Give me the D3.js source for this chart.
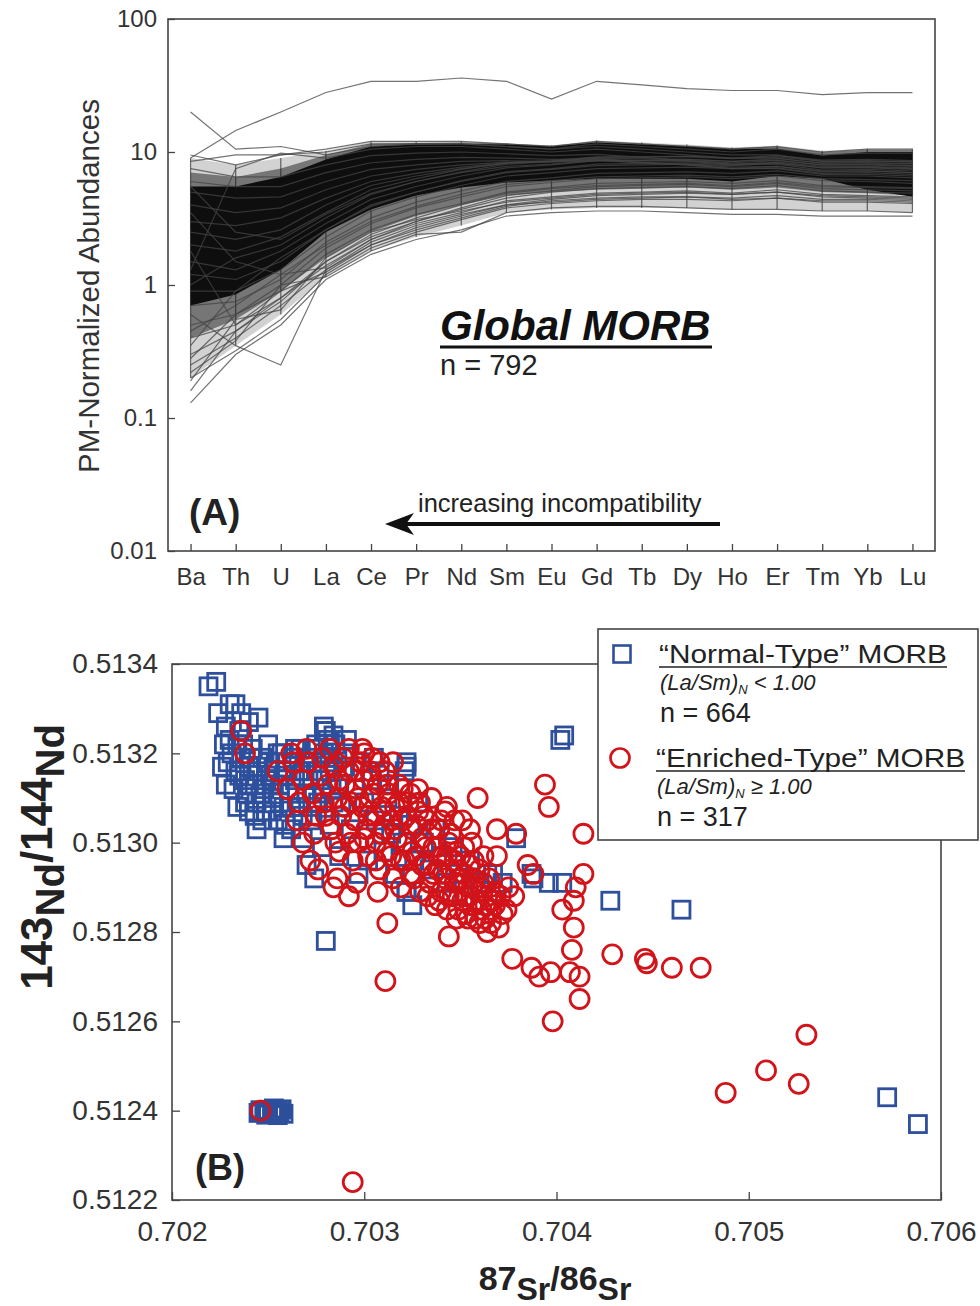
<!DOCTYPE html>
<html>
<head>
<meta charset="utf-8">
<script src="https://cdn.jsdelivr.net/npm/d3@7"></script>
<style>
  body { margin: 0; background: #fff; }
  svg { font-family: "Liberation Sans", Arial, sans-serif; }
</style>
</head>
<body>
<svg id="fig" width="980" height="1306"></svg>
<script>
// ---------- panel A data ----------
const elements = ['Ba','Th','U','La','Ce','Pr','Nd','Sm','Eu','Gd','Tb','Dy','Ho','Er','Tm','Yb','Lu'];
const abundTicks = [0.01, 0.1, 1, 10, 100];
const abundLabels = ['0.01', '0.1', '1', '10', '100'];

// envelopes of where the bulk of the 792 patterns sit
const bandOuterLo = [0.2, 0.35, 0.6, 1.15, 1.8, 2.3, 2.8, 3.5, 3.7, 3.8, 3.8, 3.8, 3.7, 3.7, 3.6, 3.6, 3.5];
const bandOuterHi = [9, 8, 9, 10.2, 12, 12, 12, 11.6, 11.2, 12.2, 11.8, 11.4, 10.8, 11.2, 10.2, 10.6, 10.6];
const bandMidLo = [0.4, 0.55, 0.9, 1.6, 2.5, 3.3, 4.0, 4.7, 5.0, 5.2, 5.3, 5.4, 5.2, 5.4, 5.0, 4.9, 4.7];
const bandMidHi = [7, 6.5, 7.5, 9.5, 11.5, 11.7, 11.8, 11.6, 11.2, 12, 11.6, 11.2, 10.7, 11, 10, 10.4, 10.4];
const bandCoreLo = [0.7, 0.85, 1.3, 2.5, 3.7, 4.7, 5.4, 5.9, 6.1, 6.3, 6.3, 6.3, 6.0, 6.6, 6.3, 5.2, 4.6];
const bandCoreHi = [5.5, 5.5, 6.5, 8.8, 11, 11.4, 11.5, 11.4, 11, 11.8, 11.4, 11, 10.5, 10.6, 9.4, 10, 10];

// individual sample patterns
const profiles = [
  [9, 14.5, 20, 28, 34, 34, 36, 34, 25, 34, 32, 30, 29, 29, 27, 28, 28],
  [20, 10.5, 11, 9.5, 11, 11.5, 11.5, 11, 10.5, 11.5, 11, 10.5, 10, 10.5, 9.5, 9.8, 9.8],
  [0.13, 0.3, 0.5, 1.1, 1.7, 2.2, 2.6, 3.3, 3.5, 3.6, 3.6, 3.5, 3.4, 3.4, 3.3, 3.3, 3.3],
  [0.6, 0.35, 0.25, 1.3, 2.1, 2.8, 3.4, 4, 4.2, 4.4, 4.5, 4.6, 4.4, 4.5, 4.3, 4.3, 4.2],
  [0.2, 0.32, 0.55, 1.2, 1.9, 2.5, 3.1, 3.8, 4.1, 4.3, 4.4, 4.4, 4.3, 4.5, 4.2, 4.2, 4.1],
  [0.25, 0.4, 0.7, 1.3, 2.0, 2.7, 3.3, 4.0, 4.4, 4.7, 4.8, 4.9, 4.8, 5.0, 4.7, 4.6, 4.5],
  [0.3, 0.45, 0.8, 1.5, 2.3, 3.0, 3.7, 4.5, 5, 5.3, 5.4, 5.5, 5.3, 5.6, 5.1, 5.0, 4.9],
  [0.4, 0.5, 0.9, 1.7, 2.6, 3.4, 4.1, 5.0, 5.4, 5.8, 5.9, 6.0, 5.8, 6.1, 5.6, 5.5, 5.4],
  [0.5, 0.6, 1.0, 1.9, 2.9, 3.8, 4.6, 5.5, 5.9, 6.3, 6.4, 6.5, 6.3, 6.6, 6.1, 6.0, 5.8],
  [0.7, 0.75, 1.1, 2.1, 3.2, 4.2, 5.1, 6.0, 6.4, 6.9, 7.0, 7.1, 6.9, 7.2, 6.6, 6.6, 6.4],
  [0.9, 0.9, 1.3, 2.3, 3.6, 4.6, 5.6, 6.6, 7.0, 7.5, 7.6, 7.7, 7.5, 7.8, 7.2, 7.2, 7.0],
  [1.2, 1.1, 1.5, 2.6, 4.0, 5.0, 6.1, 7.1, 7.5, 8.1, 8.2, 8.3, 8.0, 8.4, 7.8, 7.8, 7.6],
  [1.5, 1.3, 1.8, 2.9, 4.4, 5.5, 6.6, 7.6, 8.0, 8.6, 8.7, 8.8, 8.5, 8.9, 8.3, 8.3, 8.1],
  [1.0, 1.6, 2.0, 3.2, 4.8, 6.0, 7.1, 8.1, 8.5, 9.1, 9.2, 9.3, 9.0, 9.4, 8.7, 8.8, 8.6],
  [2.0, 1.8, 2.3, 3.5, 5.2, 6.3, 7.4, 8.3, 8.6, 9.2, 9.2, 9.2, 8.9, 9.2, 8.5, 8.6, 8.4],
  [2.5, 2.2, 2.6, 4.0, 5.6, 6.6, 7.5, 8.2, 8.5, 9.0, 8.9, 8.8, 8.5, 8.7, 8.0, 8.1, 7.9],
  [3.0, 2.8, 3.2, 4.5, 6.0, 6.9, 7.7, 8.3, 8.5, 8.8, 8.6, 8.5, 8.1, 8.3, 7.6, 7.7, 7.5],
  [4.0, 3.5, 3.8, 5.2, 6.6, 7.4, 8.0, 8.4, 8.4, 8.6, 8.3, 8.1, 7.7, 7.8, 7.1, 7.2, 7.0],
  [5.0, 4.5, 4.6, 6.0, 7.4, 8.0, 8.5, 8.6, 8.5, 8.7, 8.3, 8.0, 7.5, 7.6, 6.9, 7.0, 6.8],
  [6.0, 5.5, 5.5, 7.0, 8.3, 8.8, 9.1, 9.0, 8.8, 8.9, 8.4, 8.0, 7.5, 7.5, 6.8, 6.8, 6.6],
  [7.5, 6.5, 6.5, 8.0, 9.4, 9.8, 10.0, 9.7, 9.4, 9.6, 9.1, 8.6, 8.1, 8.1, 7.3, 7.4, 7.2],
  [9.5, 8.0, 9.5, 10.5, 12, 12, 12, 11.5, 11, 12, 11.5, 11, 10.5, 11, 10, 10.5, 10.5],
  [8.5, 9.5, 9.5, 10, 11.5, 11.5, 11.5, 11, 10.5, 11, 10.5, 10, 9.5, 9.5, 8.5, 8.5, 8.5],
  [1.8, 0.5, 0.8, 1.4, 2.2, 3.0, 3.8, 4.7, 5.1, 5.5, 5.6, 5.7, 5.5, 5.8, 5.3, 5.2, 5.1],
  [0.16, 0.45, 0.75, 1.5, 2.4, 3.2, 4.0, 4.9, 5.3, 5.6, 5.7, 5.8, 5.6, 5.9, 5.5, 5.4, 5.3],
  [3.5, 1.5, 1.2, 2.0, 3.0, 3.9, 4.8, 5.7, 6.1, 6.5, 6.6, 6.7, 6.5, 6.8, 6.3, 6.2, 6.1],
  [0.35, 0.9, 1.6, 2.6, 3.9, 5.0, 6.0, 7.0, 7.4, 7.9, 8.0, 8.1, 7.9, 8.2, 7.6, 7.6, 7.4],
  [5.5, 2.5, 2.2, 3.4, 4.9, 6.0, 7.0, 7.8, 8.1, 8.6, 8.6, 8.6, 8.3, 8.6, 8.0, 8.0, 7.8],
  [0.22, 0.38, 1.0, 1.15, 1.8, 2.4, 2.5, 3.5, 3.8, 3.9, 3.9, 3.8, 3.7, 3.7, 3.6, 3.6, 3.5],
  [1.3, 7.5, 9.8, 9, 10.5, 11, 11, 10.5, 10, 10.5, 10, 9.5, 9, 9, 8.2, 8.3, 8.2],
  [0.28, 0.6, 0.9, 1.25, 2.0, 2.6, 3.2, 3.9, 4.3, 4.5, 4.6, 4.6, 4.5, 4.7, 4.4, 4.4, 4.3],
  [0.45, 0.7, 1.2, 1.35, 2.2, 2.9, 3.5, 4.3, 4.6, 4.9, 5.0, 5.1, 4.9, 5.2, 4.8, 4.7, 4.6],
  [0.19, 0.55, 0.65, 1.6, 2.5, 3.1, 3.6, 4.2, 4.5, 4.8, 4.9, 5.0, 4.8, 5.0, 4.6, 4.5, 4.4]
];

// ---------- panel B data ----------
const srTicks = [0.702, 0.703, 0.704, 0.705, 0.706];
const ndTicks = [0.5122, 0.5124, 0.5126, 0.5128, 0.5130, 0.5132, 0.5134];

// [87Sr/86Sr, 143Nd/144Nd]
const nMorb = [
  [0.70219,0.51335],[0.70223,0.51336],[0.70224,0.51329],[0.70230,0.51331],[0.70233,0.51331],[0.70236,0.51329],
  [0.70240,0.51327],[0.70245,0.51328],[0.70228,0.51326],[0.70235,0.51325],
  [0.70227,0.51322],[0.70229,0.51318],[0.70231,0.51320],[0.70233,0.51316],[0.70234,0.51322],[0.70236,0.51319],
  [0.70238,0.51314],[0.70239,0.51311],[0.70240,0.51317],[0.70242,0.51321],[0.70243,0.51313],[0.70244,0.51309],
  [0.70245,0.51316],[0.70247,0.51319],[0.70248,0.51312],[0.70249,0.51307],[0.70250,0.51322],[0.70251,0.51315],
  [0.70252,0.51310],[0.70254,0.51318],[0.70255,0.51305],[0.70256,0.51313],[0.70257,0.51320],[0.70258,0.51308],
  [0.70259,0.51316],[0.70261,0.51311],[0.70262,0.51303],[0.70263,0.51319],[0.70264,0.51314],[0.70266,0.51308],
  [0.70267,0.51321],[0.70268,0.51301],[0.70269,0.51316],[0.70270,0.51311],[0.70272,0.51305],[0.70273,0.51318],
  [0.70274,0.51321],[0.70276,0.51309],[0.70277,0.51314],[0.70278,0.51299],[0.70279,0.51325],[0.70280,0.51319],
  [0.70281,0.51323],[0.70282,0.51304],[0.70283,0.51312],[0.70284,0.51318],[0.70285,0.51322],[0.70287,0.51297],
  [0.70288,0.51308],[0.70289,0.51316],[0.70291,0.51320],[0.70293,0.51303],[0.70295,0.51312],[0.70297,0.51293],
  [0.70298,0.51318],[0.70300,0.51309],[0.70302,0.51296],[0.70304,0.51314],[0.70306,0.51305],[0.70308,0.51316],
  [0.70310,0.51298],[0.70312,0.51310],[0.70313,0.51313],[0.70314,0.51302],[0.70316,0.51293],[0.70318,0.51306],
  [0.70320,0.51300],[0.70322,0.51289],[0.70324,0.51304],[0.70326,0.51296],[0.70328,0.51309],[0.70331,0.51300],
  [0.70334,0.51294],[0.70337,0.51303],[0.70340,0.51297],[0.70343,0.51291],[0.70346,0.51299],[0.70349,0.51293],
  [0.70352,0.51288],[0.70355,0.51296],[0.70360,0.51291],[0.70364,0.51293],
  [0.70240,0.51307],[0.70244,0.51303],[0.70258,0.51301],[0.70270,0.51295],[0.70274,0.51292],
  [0.70279,0.51326],[0.70280,0.51325],[0.70284,0.51324],[0.70291,0.51323],[0.70305,0.51319],
  [0.70321,0.51316],[0.70322,0.51318],[0.70322,0.51317],
  [0.70226,0.51317],[0.70228,0.51313],[0.70230,0.51323],[0.70232,0.51312],[0.70234,0.51308],[0.70235,0.51315],
  [0.70237,0.51322],[0.70238,0.51309],[0.70240,0.51313],[0.70241,0.51319],[0.70243,0.51306],[0.70244,0.51317],
  [0.70246,0.51311],[0.70247,0.51305],[0.70249,0.51314],[0.70250,0.51318],[0.70252,0.51307],[0.70253,0.51313],
  [0.70255,0.51320],[0.70256,0.51309],[0.70258,0.51315],[0.70259,0.51304],[0.70260,0.51318],[0.70262,0.51308],
  [0.70264,0.51321],[0.70265,0.51311],[0.70266,0.51316],[0.70268,0.51306],[0.70270,0.51319],[0.70271,0.51314],
  [0.70273,0.51308],[0.70275,0.51322],[0.70276,0.51316],[0.70278,0.51311],[0.70279,0.51320],[0.70282,0.51316],
  [0.70284,0.51309],[0.70286,0.51319],[0.70287,0.51313],[0.70290,0.51317],
  [0.70402,0.51323],[0.70404,0.51324],[0.70379,0.51301],[0.70396,0.51291],[0.70388,0.51292],[0.70403,0.51291],
  [0.70428,0.51287],[0.70465,0.51285],[0.70280,0.51278],[0.70572,0.51243],[0.70588,0.51237],
  [0.70322,0.51289],[0.70325,0.51286],[0.70387,0.51293],[0.70372,0.51291],[0.70367,0.51293],
  [0.70246,0.512401],[0.70248,0.512396],[0.70250,0.512402],[0.70252,0.512394],[0.70254,0.512400],[0.70256,0.512397],
  [0.70258,0.512393],[0.70249,0.512391],[0.70253,0.512405],[0.70257,0.512403],[0.70245,0.512395],[0.70255,0.512390]
];

const eMorb = [
  [0.70236,0.51325],[0.70238,0.51320],[0.70292,0.51321],[0.70255,0.51316],[0.70260,0.51312],[0.70263,0.51318],
  [0.70266,0.51309],[0.70268,0.51314],[0.70271,0.51318],[0.70273,0.51311],[0.70275,0.51306],[0.70277,0.51315],
  [0.70279,0.51309],[0.70281,0.51313],[0.70283,0.51303],[0.70284,0.51317],[0.70286,0.51310],[0.70287,0.51298],
  [0.70288,0.51306],[0.70290,0.51313],[0.70291,0.51302],[0.70292,0.51316],[0.70293,0.51309],[0.70294,0.51296],
  [0.70295,0.51305],[0.70296,0.51312],[0.70297,0.51300],[0.70298,0.51318],[0.70299,0.51308],[0.70300,0.51314],
  [0.70301,0.51303],[0.70302,0.51297],[0.70303,0.51310],[0.70304,0.51319],[0.70305,0.51306],[0.70306,0.51300],
  [0.70307,0.51313],[0.70308,0.51294],[0.70309,0.51308],[0.70310,0.51303],[0.70311,0.51316],[0.70312,0.51298],
  [0.70313,0.51311],[0.70314,0.51305],[0.70315,0.51292],[0.70316,0.51308],[0.70317,0.51301],[0.70318,0.51313],
  [0.70319,0.51296],[0.70320,0.51305],[0.70322,0.51300],[0.70323,0.51309],[0.70324,0.51293],[0.70325,0.51303],
  [0.70327,0.51297],[0.70328,0.51307],[0.70329,0.51289],[0.70330,0.51301],[0.70332,0.51295],[0.70333,0.51305],
  [0.70334,0.51291],[0.70336,0.51299],[0.70337,0.51286],[0.70338,0.51294],[0.70339,0.51303],[0.70340,0.51289],
  [0.70341,0.51297],[0.70342,0.51292],[0.70343,0.51285],[0.70344,0.51300],[0.70345,0.51294],[0.70346,0.51288],
  [0.70347,0.51296],[0.70348,0.51283],[0.70349,0.51291],[0.70350,0.51297],[0.70351,0.51287],[0.70352,0.51293],
  [0.70353,0.51284],[0.70354,0.51290],[0.70355,0.51295],[0.70356,0.51286],[0.70357,0.51292],[0.70358,0.51283],
  [0.70359,0.51289],[0.70360,0.51294],[0.70361,0.51285],[0.70362,0.51291],[0.70363,0.51283],[0.70364,0.51288],
  [0.70366,0.51285],[0.70368,0.51289],[0.70342,0.51307],[0.70347,0.51305],[0.70356,0.51300],[0.70335,0.51310],
  [0.70268,0.51300],[0.70272,0.51296],[0.70276,0.51294],[0.70284,0.51290],[0.70292,0.51288],[0.70296,0.51291],
  [0.70328,0.51312],[0.70343,0.51308],[0.70351,0.51305],[0.70307,0.51289],[0.70286,0.51292],[0.70299,0.51321],
  [0.70262,0.51320],[0.70265,0.51305],[0.70270,0.51321],[0.70274,0.51302],[0.70278,0.51319],[0.70280,0.51306],
  [0.70282,0.51321],[0.70285,0.51300],[0.70287,0.51314],[0.70289,0.51319],[0.70290,0.51308],[0.70293,0.51300],
  [0.70295,0.51316],[0.70297,0.51310],[0.70300,0.51320],[0.70300,0.51301],[0.70302,0.51306],[0.70303,0.51316],
  [0.70305,0.51311],[0.70306,0.51296],[0.70308,0.51318],[0.70309,0.51302],[0.70311,0.51307],[0.70312,0.51313],
  [0.70314,0.51297],[0.70315,0.51318],[0.70316,0.51303],[0.70318,0.51309],[0.70319,0.51290],[0.70320,0.51312],
  [0.70321,0.51296],[0.70322,0.51306],[0.70324,0.51311],[0.70325,0.51298],[0.70326,0.51292],[0.70327,0.51304],
  [0.70329,0.51309],[0.70330,0.51295],[0.70331,0.51306],[0.70332,0.51299],[0.70333,0.51288],[0.70335,0.51303],
  [0.70336,0.51293],[0.70338,0.51299],[0.70339,0.51287],[0.70340,0.51305],[0.70341,0.51293],[0.70343,0.51297],
  [0.70344,0.51288],[0.70345,0.51302],[0.70347,0.51291],[0.70348,0.51298],[0.70349,0.51285],[0.70350,0.51292],
  [0.70352,0.51299],[0.70353,0.51288],[0.70354,0.51283],[0.70356,0.51290],[0.70357,0.51296],[0.70358,0.51287],
  [0.70360,0.51282],[0.70361,0.51290],[0.70363,0.51286],[0.70365,0.51292],[0.70366,0.51282],[0.70368,0.51286],
  [0.70371,0.51288],[0.70374,0.51285],[0.70362,0.51297],[0.70355,0.51303],
  [0.70367,0.51287],[0.70372,0.51284],[0.70375,0.51290],[0.70370,0.51281],[0.70364,0.51280],[0.70378,0.51288],
  [0.70385,0.51295],[0.70388,0.51293],[0.70379,0.51302],[0.70369,0.51297],
  [0.70312,0.51282],[0.70311,0.51269],[0.70344,0.51279],[0.70359,0.51310],[0.70369,0.51303],[0.70394,0.51313],
  [0.70396,0.51308],[0.70414,0.51302],[0.70414,0.51293],[0.70410,0.51290],[0.70409,0.51287],[0.70403,0.51285],
  [0.70409,0.51281],[0.70408,0.51276],[0.70407,0.51271],[0.70412,0.51270],[0.70412,0.51265],[0.70429,0.51275],
  [0.70446,0.51274],[0.70447,0.51273],[0.70460,0.51272],[0.70475,0.51272],[0.70377,0.51274],[0.70387,0.51272],
  [0.70391,0.51270],[0.70397,0.51271],[0.70398,0.51260],[0.70488,0.51244],[0.70509,0.51249],[0.70526,0.51246],
  [0.70530,0.51257],[0.70294,0.51224],[0.70246,0.51240]
];

const blue = '#2d4f9c';
const red = '#d2141a';

const svg = d3.select('#fig');

// ================= Panel A =================
const xA = d3.scalePoint().domain(elements).range([168, 935]).padding(0.5);
const yA = d3.scaleLog().domain([0.01, 100]).range([551, 19]);

const gA = svg.append('g');

const bandArea = (lo, hi) => d3.area()
  .x((d, i) => xA(elements[i]))
  .y0((d, i) => yA(lo[i]))
  .y1((d, i) => yA(hi[i]))(elements);

gA.append('path').attr('d', bandArea(bandOuterLo, bandOuterHi)).attr('fill', '#333').attr('opacity', 0.22);
gA.append('path').attr('d', bandArea(bandMidLo, bandMidHi)).attr('fill', '#1a1a1a').attr('opacity', 0.5);
gA.append('path').attr('d', bandArea(bandCoreLo, bandCoreHi)).attr('fill', '#060606').attr('opacity', 0.93);

// vertical marks where sample points stack up at each element
gA.selectAll('line.stack')
  .data(elements)
  .join('line')
  .attr('class', 'stack')
  .attr('x1', d => xA(d)).attr('x2', d => xA(d))
  .attr('y1', (d, i) => yA(bandOuterLo[i]))
  .attr('y2', (d, i) => yA(bandOuterHi[i]))
  .attr('stroke', '#111').attr('stroke-width', 1.2).attr('opacity', 0.6);

const lineA = d3.line()
  .x((d, i) => xA(elements[i]))
  .y(d => yA(d));

gA.selectAll('path.sample')
  .data(profiles)
  .join('path')
  .attr('class', 'sample')
  .attr('d', lineA)
  .attr('fill', 'none')
  .attr('stroke', '#444')
  .attr('stroke-width', 1.2)
  .attr('opacity', 0.75);

// frame
gA.append('rect')
  .attr('x', 168).attr('y', 19).attr('width', 767).attr('height', 532)
  .attr('fill', 'none').attr('stroke', '#444').attr('stroke-width', 1.6);

const axAx = gA.append('g')
  .attr('transform', 'translate(0,551)')
  .call(d3.axisBottom(xA).tickSizeInner(-7).tickSizeOuter(0).tickPadding(17));
axAx.select('.domain').remove();
axAx.selectAll('text').attr('font-size', 24).attr('fill', '#333');
axAx.selectAll('line').attr('stroke', '#444').attr('stroke-width', 1.3);

const ayAx = gA.append('g')
  .attr('transform', 'translate(168,0)')
  .call(d3.axisLeft(yA).tickValues(abundTicks).tickFormat((d, i) => abundLabels[i])
    .tickSizeInner(-7).tickSizeOuter(0).tickPadding(11));
ayAx.select('.domain').remove();
ayAx.selectAll('text').attr('font-size', 24).attr('fill', '#333');
ayAx.selectAll('line').attr('stroke', '#444').attr('stroke-width', 1.3);

gA.append('text')
  .attr('transform', 'translate(99,286) rotate(-90)')
  .attr('text-anchor', 'middle')
  .attr('font-size', 29.5).attr('fill', '#333')
  .text('PM-Normalized Abundances');

gA.append('text')
  .attr('x', 440).attr('y', 340)
  .attr('font-size', 42).attr('font-weight', 'bold').attr('font-style', 'italic')
  .attr('fill', '#111')
  .text('Global MORB');
gA.append('line')
  .attr('x1', 440).attr('x2', 712).attr('y1', 347).attr('y2', 347)
  .attr('stroke', '#111').attr('stroke-width', 3);
gA.append('text')
  .attr('x', 440).attr('y', 375)
  .attr('font-size', 29).attr('fill', '#222')
  .text('n = 792');

gA.append('text')
  .attr('x', 189).attr('y', 525)
  .attr('font-size', 37).attr('font-weight', 'bold').attr('fill', '#222')
  .text('(A)');

gA.append('text')
  .attr('x', 418).attr('y', 512)
  .attr('font-size', 25.5).attr('fill', '#222')
  .text('increasing incompatibility');

gA.append('line')
  .attr('x1', 720).attr('x2', 402).attr('y1', 524).attr('y2', 524)
  .attr('stroke', '#111').attr('stroke-width', 4);
gA.append('path')
  .attr('d', 'M385,524 L414,513 L406,524 L414,535 Z')
  .attr('fill', '#111');

// ================= Panel B =================
const xB = d3.scaleLinear().domain([0.702, 0.706]).range([172, 941]);
const yB = d3.scaleLinear().domain([0.5122, 0.5134]).range([1200, 664]);

const gB = svg.append('g');

gB.append('rect')
  .attr('x', 172).attr('y', 664).attr('width', 769).attr('height', 536)
  .attr('fill', 'none').attr('stroke', '#444').attr('stroke-width', 1.6);

const bxAx = gB.append('g')
  .attr('transform', 'translate(0,1200)')
  .call(d3.axisBottom(xB).tickValues(srTicks).tickFormat(d3.format('.3f'))
    .tickSizeInner(-8).tickSizeOuter(0).tickPadding(21));
bxAx.select('.domain').remove();
bxAx.selectAll('text').attr('font-size', 28).attr('fill', '#333');
bxAx.selectAll('line').attr('stroke', '#444').attr('stroke-width', 1.3);

const byAx = gB.append('g')
  .attr('transform', 'translate(172,0)')
  .call(d3.axisLeft(yB).tickValues(ndTicks).tickFormat(d3.format('.4f'))
    .tickSizeInner(-8).tickSizeOuter(0).tickPadding(14));
byAx.select('.domain').remove();
byAx.selectAll('text').attr('font-size', 28).attr('fill', '#333');
byAx.selectAll('line').attr('stroke', '#444').attr('stroke-width', 1.3);

const sq = 17;
gB.append('g').selectAll('rect')
  .data(nMorb)
  .join('rect')
  .attr('x', d => xB(d[0]) - sq / 2)
  .attr('y', d => yB(d[1]) - sq / 2)
  .attr('width', sq).attr('height', sq)
  .attr('fill', 'none').attr('stroke', blue).attr('stroke-width', 2.8);

gB.append('g').selectAll('circle')
  .data(eMorb)
  .join('circle')
  .attr('cx', d => xB(d[0]))
  .attr('cy', d => yB(d[1]))
  .attr('r', 9.5)
  .attr('fill', 'none').attr('stroke', red).attr('stroke-width', 2.8);

gB.append('text')
  .attr('x', 195).attr('y', 1180)
  .attr('font-size', 36).attr('font-weight', 'bold').attr('fill', '#222')
  .text('(B)');

// axis titles with isotope mass numbers
const xt = gB.append('text')
  .attr('x', 555).attr('y', 1290)
  .attr('text-anchor', 'middle')
  .attr('font-weight', 'bold').attr('fill', '#222');
xt.append('tspan').attr('font-size', 34).text('87');
xt.append('tspan').attr('font-size', 32).attr('dy', 10).text('Sr');
xt.append('tspan').attr('font-size', 34).attr('dy', -10).text('/');
xt.append('tspan').attr('font-size', 34).text('86');
xt.append('tspan').attr('font-size', 32).attr('dy', 10).text('Sr');

const yt = gB.append('text')
  .attr('transform', 'translate(52,857) rotate(-90)')
  .attr('text-anchor', 'middle')
  .attr('font-weight', 'bold').attr('fill', '#222');
yt.append('tspan').attr('font-size', 44).text('143');
yt.append('tspan').attr('font-size', 40).attr('dy', 12).text('Nd');
yt.append('tspan').attr('font-size', 44).attr('dy', -12).text('/');
yt.append('tspan').attr('font-size', 44).text('144');
yt.append('tspan').attr('font-size', 40).attr('dy', 12).text('Nd');

// legend
const lg = gB.append('g');
lg.append('rect')
  .attr('x', 598).attr('y', 629).attr('width', 380).attr('height', 211)
  .attr('fill', '#fff').attr('stroke', '#444').attr('stroke-width', 1.6);
lg.append('rect')
  .attr('x', 622 - 8.5).attr('y', 654 - 8.5).attr('width', sq).attr('height', sq)
  .attr('fill', 'none').attr('stroke', blue).attr('stroke-width', 2.6);
lg.append('circle')
  .attr('cx', 620).attr('cy', 758).attr('r', 9.5)
  .attr('fill', 'none').attr('stroke', red).attr('stroke-width', 2.7);

const legendRows = [
  { y: 663, text: '\u201CNormal-Type\u201D MORB', w: 288, ratio: '< 1.00', n: 'n = 664' },
  { y: 767, text: '\u201CEnriched-Type\u201D MORB', w: 309, ratio: '\u2265 1.00', n: 'n = 317' }
];
legendRows.forEach((r, i) => {
  const x0 = i === 0 ? 659 : 656;
  lg.append('text')
    .attr('x', x0).attr('y', r.y)
    .attr('font-size', 26).attr('fill', '#222')
    .attr('textLength', r.w).attr('lengthAdjust', 'spacingAndGlyphs')
    .text(r.text);
  lg.append('line')
    .attr('x1', x0).attr('x2', x0 + r.w).attr('y1', r.y + 4).attr('y2', r.y + 4)
    .attr('stroke', '#222').attr('stroke-width', 1.6);
  const t = lg.append('text')
    .attr('x', x0 + 1).attr('y', r.y + 27)
    .attr('font-size', 22).attr('font-style', 'italic').attr('fill', '#222');
  t.append('tspan').text('(La/Sm)');
  t.append('tspan').attr('font-size', 13).attr('dy', 4).text('N');
  t.append('tspan').attr('dy', -4).text(' ' + r.ratio);
  lg.append('text')
    .attr('x', x0 + 1).attr('y', r.y + 59)
    .attr('font-size', 27).attr('fill', '#222')
    .text(r.n);
});
</script>
</body>
</html>
